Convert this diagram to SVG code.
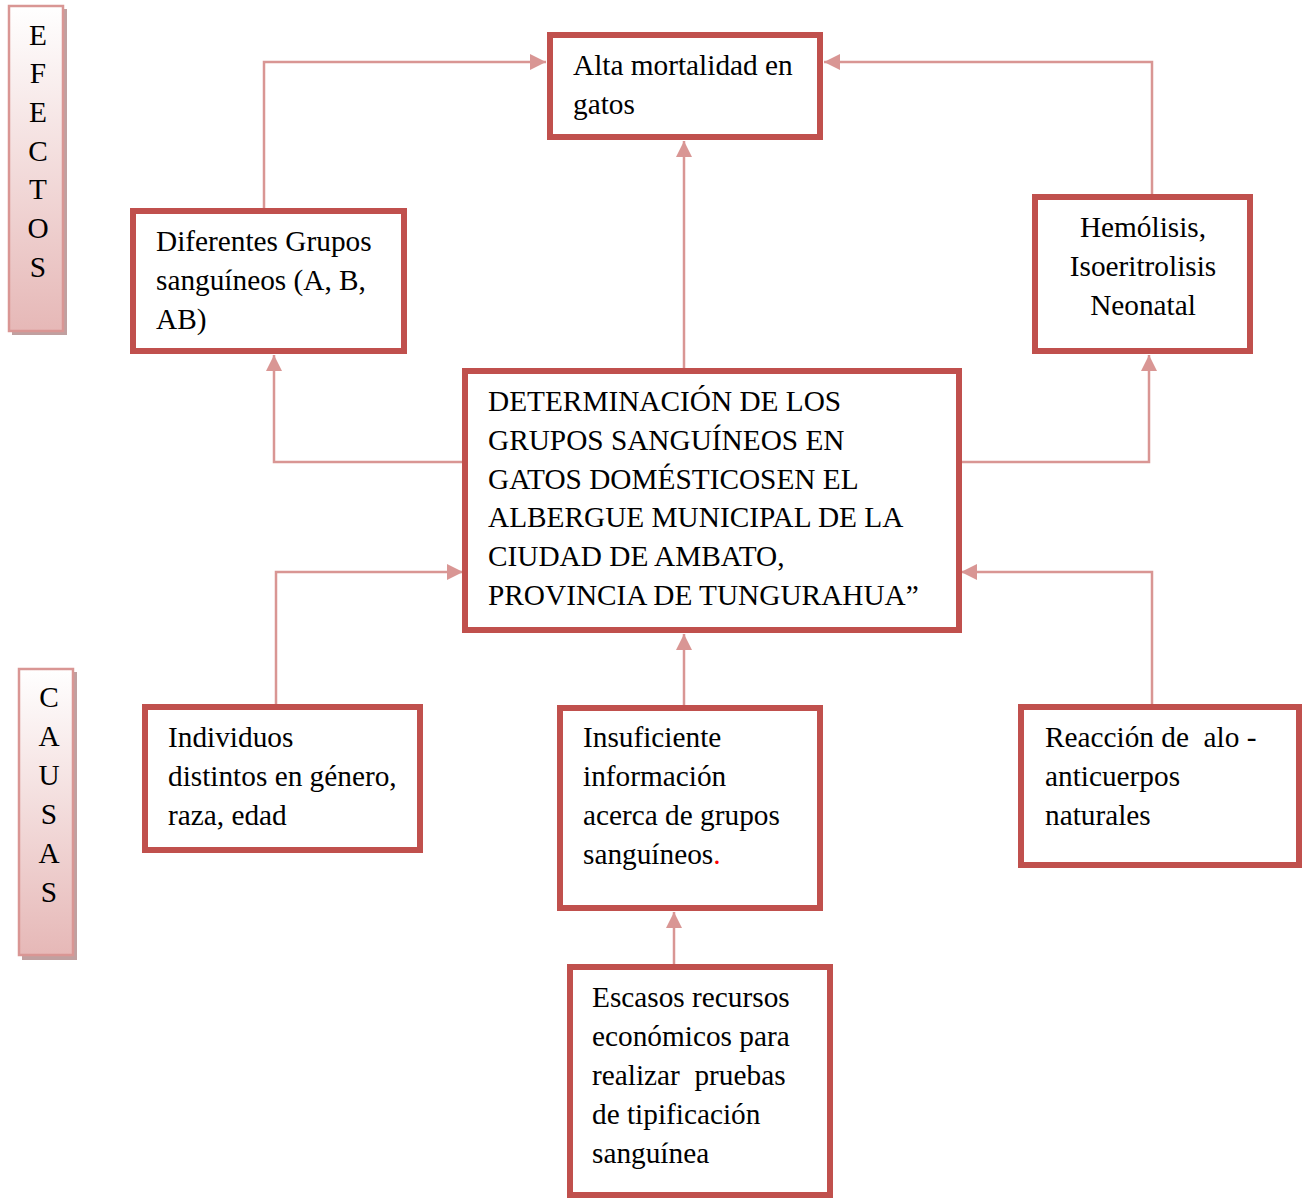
<svg xmlns="http://www.w3.org/2000/svg" width="1307" height="1198" viewBox="0 0 1307 1198">
<style>
.box{fill:#ffffff;stroke:#c0504d;stroke-width:6}
.t{font-family:"Liberation Serif","Times New Roman",serif;font-size:29.3px;fill:#000}
.c{text-anchor:middle}
.conn{fill:none;stroke:#d99694;stroke-width:2.5}
.side{fill:url(#g);stroke:#d99694;stroke-width:2.5}
.shadow{fill:#c0a0a0}
</style>
<defs>
<linearGradient id="g" x1="0" y1="0" x2="0" y2="1">
<stop offset="0" stop-color="#ffffff"/>
<stop offset="1" stop-color="#e6b8b7"/>
</linearGradient>
<marker id="ah" markerUnits="userSpaceOnUse" markerWidth="18" markerHeight="16" refX="16" refY="8" orient="auto">
<path d="M0,0 L16,8 L0,16 Z" fill="#d99694"/>
</marker>
</defs>

<g id="efectos">
<rect class="shadow" x="12" y="9" width="55" height="326"/>
<rect class="side" x="9" y="6" width="54" height="325"/>
<text class="t c" x="38" y="45">E</text>
<text class="t c" x="38" y="83">F</text>
<text class="t c" x="38" y="122">E</text>
<text class="t c" x="38" y="161">C</text>
<text class="t c" x="38" y="199">T</text>
<text class="t c" x="38" y="238">O</text>
<text class="t c" x="38" y="277">S</text>
</g>

<g id="causas">
<rect class="shadow" x="22" y="672" width="55" height="288"/>
<rect class="side" x="19" y="669" width="54" height="286"/>
<text class="t c" x="49" y="707">C</text>
<text class="t c" x="49" y="746">A</text>
<text class="t c" x="49" y="785">U</text>
<text class="t c" x="49" y="824">S</text>
<text class="t c" x="49" y="863">A</text>
<text class="t c" x="49" y="902">S</text>
</g>

<g id="connectors">
<path class="conn" d="M684,368 L684,141" marker-end="url(#ah)"/>
<path class="conn" d="M264,208 L264,62 L546,62" marker-end="url(#ah)"/>
<path class="conn" d="M1152,194 L1152,62 L824,62" marker-end="url(#ah)"/>
<path class="conn" d="M462,462 L274,462 L274,355" marker-end="url(#ah)"/>
<path class="conn" d="M962,462 L1149,462 L1149,355" marker-end="url(#ah)"/>
<path class="conn" d="M276,704 L276,572 L463,572" marker-end="url(#ah)"/>
<path class="conn" d="M1152,704 L1152,572 L961,572" marker-end="url(#ah)"/>
<path class="conn" d="M684,705 L684,634" marker-end="url(#ah)"/>
<path class="conn" d="M674,964 L674,912" marker-end="url(#ah)"/>
</g>

<g id="alta">
<rect class="box" x="550" y="35" width="270" height="102"/>
<text class="t" x="573" y="75">Alta mortalidad en</text>
<text class="t" x="573" y="114">gatos</text>
</g>

<g id="diferentes">
<rect class="box" x="133" y="211" width="271" height="140"/>
<text class="t" x="156" y="251">Diferentes Grupos</text>
<text class="t" x="156" y="290">sanguíneos (A, B,</text>
<text class="t" x="156" y="329">AB)</text>
</g>

<g id="hemolisis">
<rect class="box" x="1035" y="197" width="215" height="154"/>
<text class="t c" x="1143" y="237">Hemólisis,</text>
<text class="t c" x="1143" y="276">Isoeritrolisis</text>
<text class="t c" x="1143" y="315">Neonatal</text>
</g>

<g id="central">
<rect class="box" x="465" y="371" width="494" height="259"/>
<text class="t" x="488" y="411">DETERMINACIÓN DE LOS</text>
<text class="t" x="488" y="450">GRUPOS SANGUÍNEOS EN</text>
<text class="t" x="488" y="489">GATOS DOMÉSTICOSEN EL</text>
<text class="t" x="488" y="527">ALBERGUE MUNICIPAL DE LA</text>
<text class="t" x="488" y="566">CIUDAD DE AMBATO,</text>
<text class="t" x="488" y="605">PROVINCIA DE TUNGURAHUA”</text>
</g>

<g id="individuos">
<rect class="box" x="145" y="707" width="275" height="143"/>
<text class="t" x="168" y="747">Individuos</text>
<text class="t" x="168" y="786">distintos en género,</text>
<text class="t" x="168" y="825">raza, edad</text>
</g>

<g id="insuficiente">
<rect class="box" x="560" y="708" width="260" height="200"/>
<text class="t" x="583" y="747">Insuficiente</text>
<text class="t" x="583" y="786">información</text>
<text class="t" x="583" y="825">acerca de grupos</text>
<text class="t" x="583" y="864">sanguíneos<tspan fill="#ff0000">.</tspan></text>
</g>

<g id="reaccion">
<rect class="box" x="1021" y="707" width="278" height="158"/>
<text class="t" x="1045" y="747" xml:space="preserve">Reacción de  alo -</text>
<text class="t" x="1045" y="786">anticuerpos</text>
<text class="t" x="1045" y="825">naturales</text>
</g>

<g id="escasos">
<rect class="box" x="570" y="967" width="260" height="228"/>
<text class="t" x="592" y="1007">Escasos recursos</text>
<text class="t" x="592" y="1046">económicos para</text>
<text class="t" x="592" y="1085" xml:space="preserve">realizar  pruebas</text>
<text class="t" x="592" y="1124">de tipificación</text>
<text class="t" x="592" y="1163">sanguínea</text>
</g>
</svg>
